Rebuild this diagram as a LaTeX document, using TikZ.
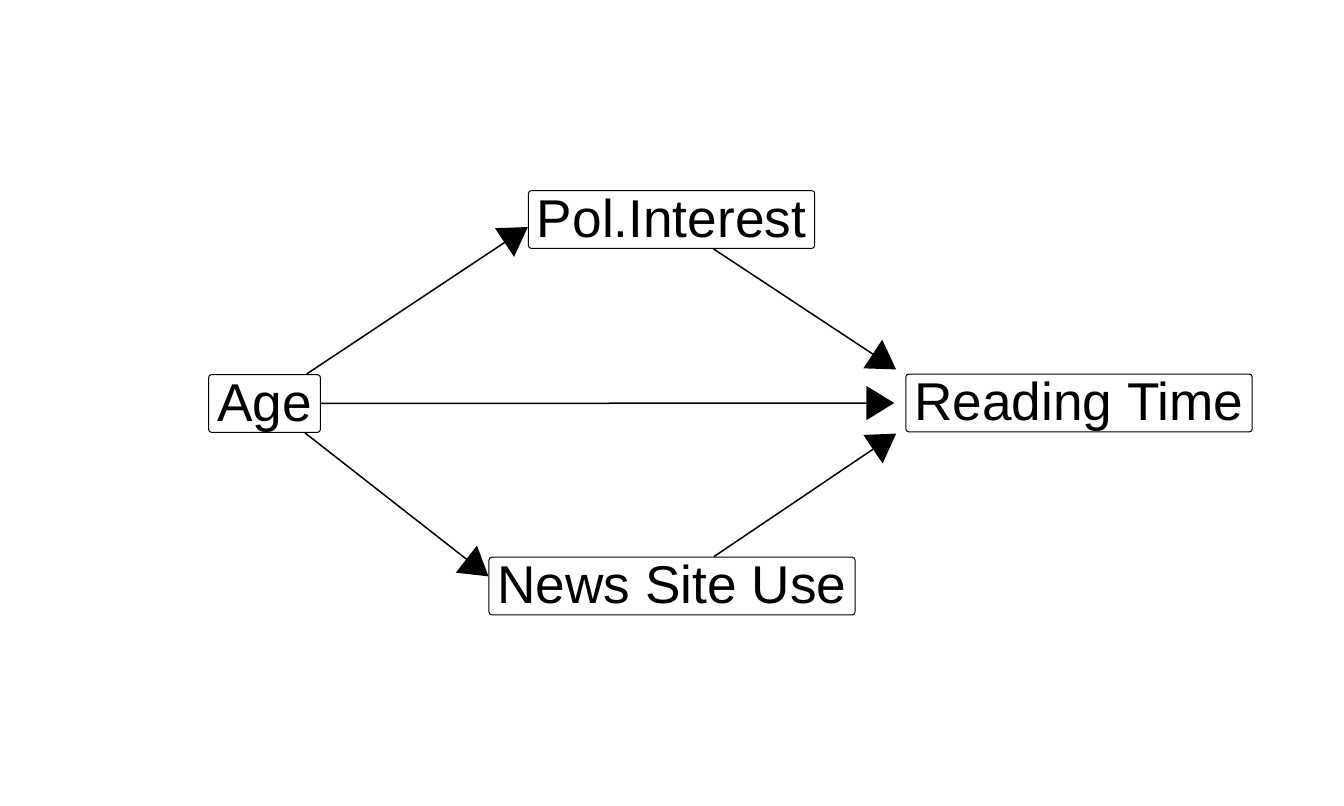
\documentclass[tikz,border=0pt]{standalone}
\usepackage{fontspec}
\setmainfont{Liberation Sans}
\usetikzlibrary{arrows.meta}

\begin{document}
\begin{tikzpicture}[
    x=0.5pt, y=-0.5pt,
    >={Triangle[length=14pt, width=17pt]}, % punta grande y rellena
    varnodo/.style={draw, line width=0.5pt, rounded corners=1.5pt, font=\fontsize{26.6}{30}\selectfont,
                     text height=21.3pt, text depth=3.6pt, inner xsep=4.3pt, inner ysep=2pt},
    flecha/.style={->, line width=0.75pt}
]
    \useasboundingbox (0,0) rectangle (1344,806);

    % 1. Variables
    \node[varnodo] (age) at (264.5,403.5) {Age};
    \node[varnodo] (pol) at (671.5,219.5) {Pol.Interest};
    \node[varnodo] (reading) at (1079,403) {Reading Time};
    \node[varnodo] (news) at (672,586) {News Site Use};

    % 2. Flechas desde Age
    \draw[flecha] (age.35) -- (pol.183);
    \draw[flecha, shorten >=5.5pt] (age.east) -- (reading.west);
    \draw[flecha] (age.-36) -- (news.177);

    % 3. Flechas hacia Reading Time
    \draw[flecha, shorten >=5.5pt] (pol.-35) -- (reading.171);
    \draw[flecha, shorten >=5.5pt] (news.35) -- (reading.188);

\end{tikzpicture}
\end{document}
